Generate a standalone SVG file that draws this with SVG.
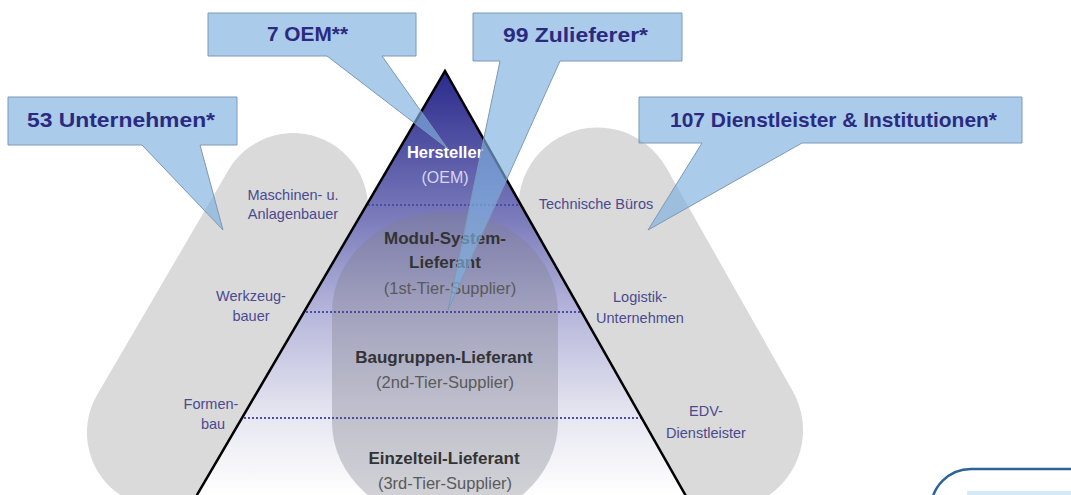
<svg xmlns="http://www.w3.org/2000/svg" width="1071" height="495" viewBox="0 0 1071 495">
  <defs>
    <linearGradient id="triGrad" gradientUnits="userSpaceOnUse" x1="0" y1="71" x2="0" y2="495">
      <stop offset="0" stop-color="#2a2a8c"/>
      <stop offset="0.32" stop-color="#7474b8"/>
      <stop offset="0.56" stop-color="#b4b4da"/>
      <stop offset="0.8" stop-color="#e4e4f0"/>
      <stop offset="1" stop-color="#ffffff"/>
    </linearGradient>
    <clipPath id="triClip">
      <polygon points="445,71 187,512 695,512"/>
    </clipPath>
  </defs>
  <style>
    .band { fill: #dadada; }
    .callout { fill: #7fb0e0; fill-opacity: 0.66; stroke: #7e98b4; stroke-width: 1; }
    .ctext { font-family: "Liberation Sans", Arial, sans-serif; font-weight: bold; font-size: 21px; fill: #2a2a80; }
    .label { font-family: "Liberation Sans", Arial, sans-serif; font-size: 14.5px; fill: #4a4a90; text-anchor: middle; }
    .tier { font-family: "Liberation Sans", Arial, sans-serif; font-weight: bold; font-size: 17px; fill: #333333; text-anchor: middle; }
    .sub { font-family: "Liberation Sans", Arial, sans-serif; font-size: 16.5px; fill: #5a5a5a; text-anchor: middle; }
    .dots { stroke: #4d4da6; stroke-width: 2; stroke-dasharray: 2 2; fill: none; }
  </style>
  <rect width="1071" height="495" fill="#ffffff"/>

  <g id="band-left">
    <rect class="band" x="-137" y="120" width="150" height="410" rx="75" transform="translate(445,71) rotate(30.3)"/>
  </g>
  <g id="band-right">
    <rect class="band" x="-13" y="114" width="158" height="415" rx="79" transform="translate(445,71) rotate(-29.5)"/>
  </g>

  <g id="pyramid">
    <polygon points="445,71 187,512 695,512" fill="url(#triGrad)"/>
    <rect x="332" y="212" width="226" height="310" rx="113" ry="100" fill="#80808c" fill-opacity="0.36" clip-path="url(#triClip)"/>
    <g clip-path="url(#triClip)">
      <line class="dots" x1="300" y1="205" x2="600" y2="205"/>
      <line class="dots" x1="250" y1="312" x2="650" y2="312"/>
      <line class="dots" x1="200" y1="418" x2="700" y2="418"/>
    </g>
    <polyline points="187,512 445,71 695,512" fill="none" stroke="#000000" stroke-width="2.5" stroke-linejoin="miter"/>
  </g>

  <g id="tier-oem">
    <text x="445" y="158" font-family="Liberation Sans, Arial, sans-serif" font-weight="bold" font-size="16.5px" fill="#ffffff" text-anchor="middle">Hersteller</text>
    <text x="445" y="183" font-family="Liberation Sans, Arial, sans-serif" font-size="16px" fill="#d6d6ee" text-anchor="middle">(OEM)</text>
  </g>
  <g id="tier-1">
    <text class="tier" x="445" y="244">Modul-System-</text>
    <text class="tier" x="445" y="268">Lieferant</text>
    <text class="sub" x="450" y="294">(1st-Tier-Supplier)</text>
  </g>
  <g id="tier-2">
    <text class="tier" x="444" y="363">Baugruppen-Lieferant</text>
    <text class="sub" x="445" y="388">(2nd-Tier-Supplier)</text>
  </g>
  <g id="tier-3">
    <text class="tier" x="444" y="464">Einzelteil-Lieferant</text>
    <text class="sub" x="445" y="489">(3rd-Tier-Supplier)</text>
  </g>

  <g id="labels-left">
    <text class="label" x="293" y="200">Maschinen- u.</text>
    <text class="label" x="293" y="219">Anlagenbauer</text>
    <text class="label" x="251" y="301">Werkzeug-</text>
    <text class="label" x="251" y="321">bauer</text>
    <text class="label" x="211" y="409">Formen-</text>
    <text class="label" x="213" y="429">bau</text>
  </g>
  <g id="labels-right">
    <text class="label" x="596" y="209">Technische Büros</text>
    <text class="label" x="640" y="302">Logistik-</text>
    <text class="label" x="640" y="323">Unternehmen</text>
    <text class="label" x="706" y="416">EDV-</text>
    <text class="label" x="706" y="438">Dienstleister</text>
  </g>

  <g id="connectors">
    <g id="callout-oem">
      <path class="callout" d="M208,13 H416 V56 H382 L447,148 L327,56 H208 Z"/>
      <text class="ctext" x="267" y="41" textLength="81" lengthAdjust="spacingAndGlyphs">7 OEM**</text>
    </g>
    <g id="callout-zulieferer">
      <path class="callout" d="M473,13 H682 V61 H560 L448,310 L500,61 H473 Z"/>
      <text class="ctext" x="503" y="42" textLength="145" lengthAdjust="spacingAndGlyphs">99 Zulieferer*</text>
    </g>
    <g id="callout-unternehmen">
      <path class="callout" d="M8,97 H237 V145 H200 L223,230 L142,145 H8 Z"/>
      <text class="ctext" x="27" y="127" textLength="188" lengthAdjust="spacingAndGlyphs">53 Unternehmen*</text>
    </g>
    <g id="callout-dienstleister">
      <path class="callout" d="M639,97 H1022 V143 H802 L648,230 L702,143 H639 Z"/>
      <text class="ctext" x="670" y="127" textLength="327" lengthAdjust="spacingAndGlyphs">107 Dienstleister &amp; Institutionen*</text>
    </g>
  </g>

  <g id="corner-box">
    <rect x="931" y="469" width="200" height="80" rx="40" fill="#ffffff" stroke="#2e6399" stroke-width="2.5"/>
    <rect x="967" y="491" width="120" height="6" fill="#d5eaf7"/>
  </g>
</svg>
